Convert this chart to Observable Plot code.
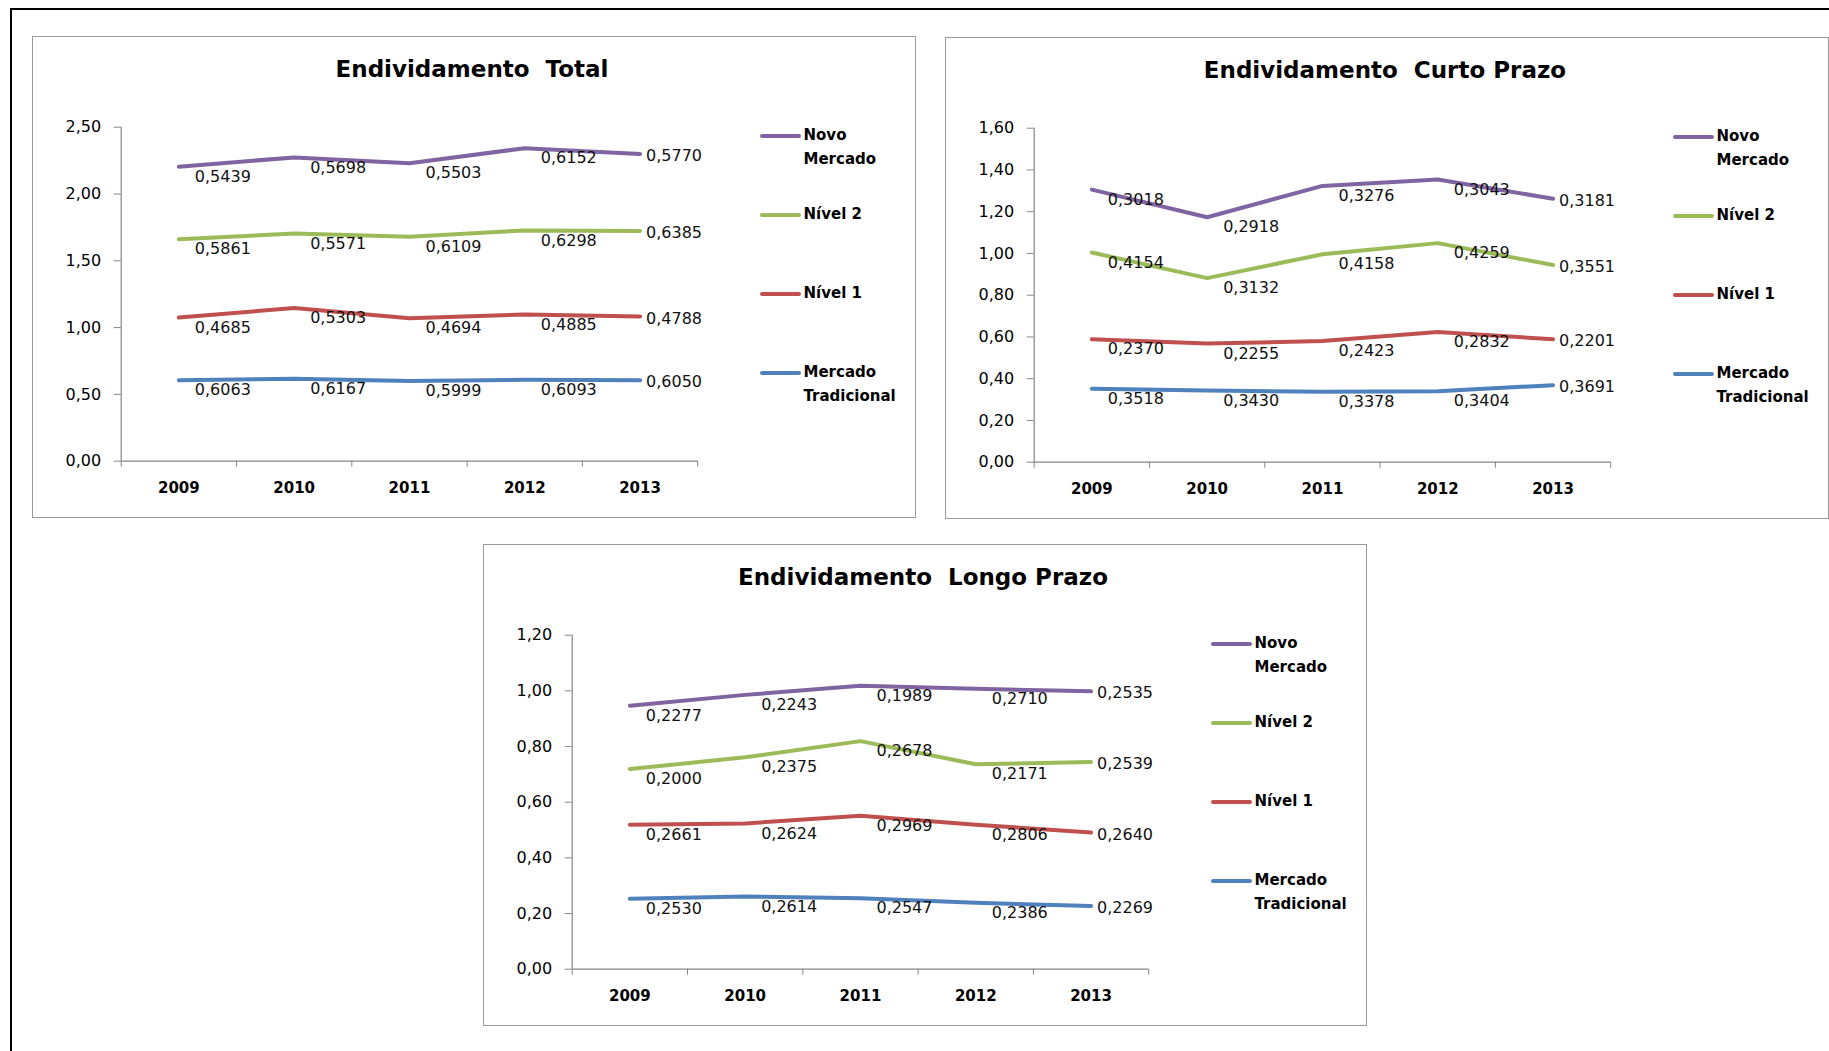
<!DOCTYPE html>
<html>
<head>
<meta charset="utf-8">
<script src="https://cdn.jsdelivr.net/npm/d3@7"></script>
<script src="https://cdn.jsdelivr.net/npm/@observablehq/plot@0.6"></script>
<style>
  html, body { margin: 0; padding: 0; background: #fff; width: 1829px; height: 1051px; overflow: hidden;
    font-family: "DejaVu Sans", Verdana, sans-serif; color: #000; }
  .frame { position: absolute; left: 10px; top: 8px; width: 2000px; height: 2000px;
    border-left: 2px solid #000; border-top: 2px solid #000; }
  .box { position: absolute; width: 884px; height: 482px; border: 1.5px solid #9a9a9a;
    box-sizing: border-box; background: #fff; }
  .title { position: absolute; left: 0; width: 878px; top: 18px; text-align: center; font-weight: bold;
    font-size: 23px; line-height: 28px; white-space: pre; }
  .plot { position: absolute; left: -1.5px; top: -1.5px; }
  .item { position: absolute; left: 726.5px; width: 160px; height: 50px; }
  .swatch { position: absolute; left: 0; top: -1.75px; width: 41px; height: 3.5px; border-radius: 2px; }
  .name { position: absolute; left: 44px; top: -11.75px; font-weight: bold; font-size: 15px;
    line-height: 23.5px; white-space: pre; }
  g[aria-label^="x-axis"] line, g[aria-label^="x-axis"] path,
  g[aria-label^="y-axis"] line, g[aria-label^="y-axis"] path { stroke: #868686; }
</style>
</head>
<body>
<div class="frame"></div>
<div id="charts"></div>
<script>
// Categories
const years = ["2009", "2010", "2011", "2012", "2013"];
// Series, bottom of the stack first
const series = ["Mercado Tradicional", "Nível 1", "Nível 2", "Novo Mercado"];
const seriesColors = ["#4F81BD", "#C0504D", "#9BBB59", "#8064A2"];
// Legend entries, top to bottom
const legendSeries = ["Novo Mercado", "Nível 2", "Nível 1", "Mercado Tradicional"];
const legendText = ["Novo\nMercado", "Nível 2", "Nível 1", "Mercado\nTradicional"];

// Endividamento Total
const totalMercadoTradicional = [0.6063, 0.6167, 0.5999, 0.6093, 0.6050];
const totalNivel1 = [0.4685, 0.5303, 0.4694, 0.4885, 0.4788];
const totalNivel2 = [0.5861, 0.5571, 0.6109, 0.6298, 0.6385];
const totalNovoMercado = [0.5439, 0.5698, 0.5503, 0.6152, 0.5770];

// Endividamento Curto Prazo
const curtoMercadoTradicional = [0.3518, 0.3430, 0.3378, 0.3404, 0.3691];
const curtoNivel1 = [0.2370, 0.2255, 0.2423, 0.2832, 0.2201];
const curtoNivel2 = [0.4154, 0.3132, 0.4158, 0.4259, 0.3551];
const curtoNovoMercado = [0.3018, 0.2918, 0.3276, 0.3043, 0.3181];

// Endividamento Longo Prazo
const longoMercadoTradicional = [0.2530, 0.2614, 0.2547, 0.2386, 0.2269];
const longoNivel1 = [0.2661, 0.2624, 0.2969, 0.2806, 0.2640];
const longoNivel2 = [0.2000, 0.2375, 0.2678, 0.2171, 0.2539];
const longoNovoMercado = [0.2277, 0.2243, 0.1989, 0.2710, 0.2535];

const ptBR = d3.formatLocale({decimal: ",", thousands: ".", grouping: [3], currency: ["R$ ", ""]});
const fmtTick = ptBR.format(".2f");
const fmtValue = ptBR.format(".4f");

function toRows(valuesBySeries) {
  const rows = [];
  series.forEach((s, k) => {
    years.forEach((y, i) => rows.push({series: s, year: y, value: valuesBySeries[k][i]}));
  });
  return rows;
}

const charts = [
  {title: "Endividamento  Total", left: 32, top: 36, yMax: 2.5, yStep: 0.5,
   rows: toRows([totalMercadoTradicional, totalNivel1, totalNivel2, totalNovoMercado])},
  {title: "Endividamento  Curto Prazo", left: 945, top: 37, yMax: 1.6, yStep: 0.2,
   rows: toRows([curtoMercadoTradicional, curtoNivel1, curtoNivel2, curtoNovoMercado])},
  {title: "Endividamento  Longo Prazo", left: 483, top: 544, yMax: 1.2, yStep: 0.2,
   rows: toRows([longoMercadoTradicional, longoNivel1, longoNivel2, longoNovoMercado])}
];

const xPos = d => years.indexOf(d.year) + 0.5;
const lastYear = years[years.length - 1];

function drawChart(c) {
  const box = document.createElement("div");
  box.className = "box";
  box.style.left = c.left + "px";
  box.style.top = c.top + "px";
  document.getElementById("charts").appendChild(box);

  const title = document.createElement("div");
  title.className = "title";
  title.textContent = c.title;
  box.appendChild(title);

  const yTicks = d3.range(0, c.yMax + c.yStep / 2, c.yStep);
  const stacked = extra => Plot.stackY2({x: xPos, y: "value", z: "series", order: series, ...extra});

  const svg = Plot.plot({
    width: 700,
    height: 482,
    marginLeft: 88.7,
    marginTop: 90.7,
    marginBottom: 57.3,
    marginRight: 34.8,
    style: {fontFamily: "DejaVu Sans, Verdana, sans-serif", fontSize: "16px", color: "#000",
      background: "transparent", overflow: "visible"},
    x: {domain: [0, years.length], ticks: d3.range(0, years.length + 1), tickFormat: () => "",
      tickSize: 6, label: null},
    y: {domain: [0, c.yMax], ticks: yTicks, tickFormat: fmtTick, tickSize: 7, tickPadding: 13, label: null},
    color: {domain: series, range: seriesColors},
    marks: [
      Plot.ruleY([0], {stroke: "#868686", strokeWidth: 1.2}),
      Plot.ruleX([0], {y1: 0, y2: c.yMax, stroke: "#868686", strokeWidth: 1.2}),
      Plot.text(years, {x: (d, i) => i + 0.5, frameAnchor: "bottom", dy: 32, text: d => d,
        fontWeight: "bold", fontSize: 15, fill: "#000"}),
      Plot.line(c.rows, stacked({stroke: "series", strokeWidth: 4, strokeLinecap: "round",
        strokeLinejoin: "round"})),
      Plot.text(c.rows, stacked({filter: d => d.year !== lastYear, text: d => fmtValue(d.value),
        textAnchor: "start", dx: 16, dy: 10, fill: "#111", fontSize: 16})),
      Plot.text(c.rows, stacked({filter: d => d.year === lastYear, text: d => fmtValue(d.value),
        textAnchor: "start", dx: 6, dy: 2, fill: "#111", fontSize: 16}))
    ]
  });
  svg.classList.add("plot");
  box.appendChild(svg);

  legendSeries.forEach((s, i) => {
    const item = document.createElement("div");
    item.className = "item";
    item.style.top = (100.5 - 1.5 + 79 * i) + "px";
    const sw = document.createElement("div");
    sw.className = "swatch";
    sw.style.background = seriesColors[series.indexOf(s)];
    const name = document.createElement("div");
    name.className = "name";
    name.textContent = legendText[i];
    item.appendChild(sw);
    item.appendChild(name);
    box.appendChild(item);
  });
}

charts.forEach(drawChart);
</script>
</body>
</html>
